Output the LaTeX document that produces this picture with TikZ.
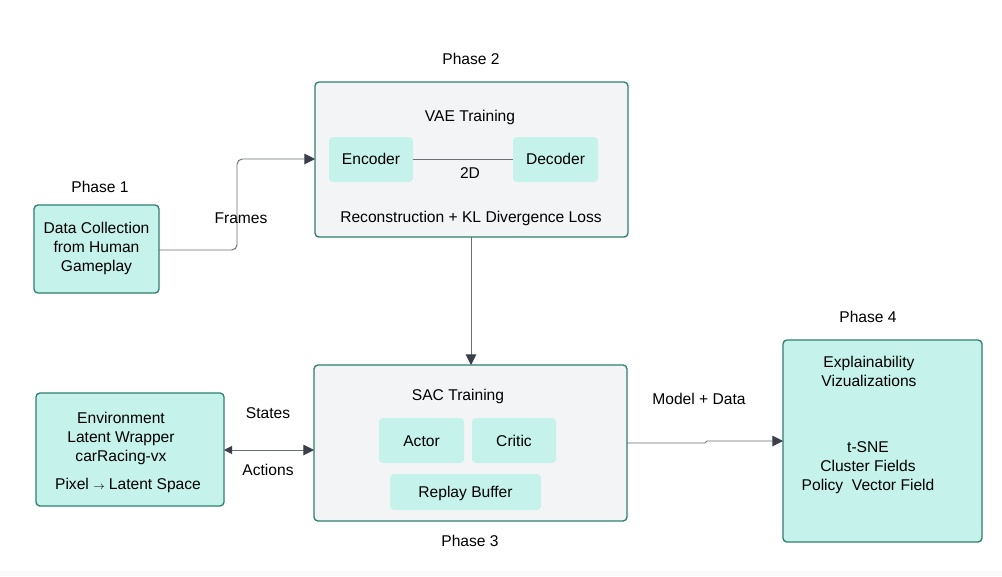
\documentclass[tikz,border=0pt]{standalone}
\usepackage{fontspec}
\setmainfont{Liberation Sans}
\usetikzlibrary{arrows.meta}
\definecolor{mint}{HTML}{C6F2EC}
\definecolor{teal2}{HTML}{2E7F70}
\definecolor{panel}{HTML}{F3F4F6}
\definecolor{wire}{HTML}{6B6E73}
\definecolor{tipc}{HTML}{3A3F4A}
\tikzset{
  px/.style={x=0.75pt,y=-0.75pt},
  phasebox/.style={draw=teal2,line width=1pt,fill=mint,rounded corners=3pt},
  panelbox/.style={draw=teal2,line width=1pt,fill=panel,rounded corners=3pt},
  subbox/.style={fill=mint,rounded corners=3pt},
  lbl/.style={font=\fontsize{11.7}{14.2}\selectfont,align=center,inner sep=0pt,yshift=-1pt},
  wirestyle/.style={draw=wire,line width=0.7pt},
  tip/.style={-{Triangle[length=8pt,width=8pt,color=tipc]}},
}
\begin{document}
\begin{tikzpicture}[px]
\useasboundingbox (0,0) rectangle (1002,576);
\fill[white] (0,0) rectangle (1002,576);
\fill[black!2] (0,571) rectangle (1002,576);
% Phase 1
\node[lbl] (p1) at (100,186) {Phase 1};
\path[phasebox] (34,205) rectangle (159,293);
\node[inner sep=0pt,minimum width=94pt,minimum height=66pt] (data) at (96.5,249) {};
\node[lbl] (datat) at (96.5,247) {Data Collection\\from Human\\Gameplay};
% Phase 2
\node[lbl] (p2) at (471,58) {Phase 2};
\path[panelbox] (315,82) rectangle (628,237);
\node[inner sep=0pt,minimum width=234.75pt,minimum height=116.25pt] (vae) at (471.5,159.5) {};
\node[lbl] (vaet) at (470,116) {VAE Training};
\path[subbox] (329,137) rectangle (413,182);
\node[lbl] (enc) at (371,158) {Encoder};
\path[subbox] (513,137) rectangle (598,182);
\node[lbl] (dec) at (555.5,158) {Decoder};
\coordinate (encE) at (413,159);
\coordinate (decW) at (513,159);
\draw[wirestyle] (encE) -- (decW);
\node[lbl] (twod) at (470,172) {2D};
\node[lbl] (loss) at (471,217) {Reconstruction + KL Divergence Loss};
% Frames connector
\coordinate (dataE) at (159,250);
\coordinate (vaeW) at (315,159);
\draw[wirestyle,tip,rounded corners=4pt] (dataE) -- (237,250) -- (237,159) -- (vaeW);
\node[lbl] (frames) at (241,217) {Frames};
% Phase 3
\path[panelbox] (314,365) rectangle (627,521);
\node[inner sep=0pt,minimum width=234.75pt,minimum height=117pt] (sac) at (470.5,443) {};
\node[lbl] (sact) at (458,395) {SAC Training};
\path[subbox] (379,418) rectangle (464,463);
\node[lbl] (actor) at (421.5,440) {Actor};
\path[subbox] (472,418) rectangle (556,463);
\node[lbl] (critic) at (514,440) {Critic};
\path[subbox] (390,474) rectangle (541,510);
\node[lbl] (replay) at (465.5,492) {Replay Buffer};
\node[lbl] (p3) at (470,540) {Phase 3};
\coordinate (vaeS) at (471,237);
\coordinate (sacN) at (471,365);
\draw[wirestyle,tip] (vaeS) -- (sacN);
% Environment
\path[phasebox] (36,393) rectangle (224,506);
\node[inner sep=0pt,minimum width=141pt,minimum height=84.75pt] (env) at (130,449.5) {};
\node[lbl] (envt) at (121,437) {Environment\\Latent Wrapper\\carRacing-vx};
\node[lbl] (pix) at (128,484) {Pixel {\fontsize{8}{8}\selectfont$\rightarrow$} Latent Space};
\coordinate (envE) at (224,450);
\coordinate (sacW) at (314,450);
\draw[wirestyle,{Triangle[length=6pt,width=6pt,color=tipc]}-{Triangle[length=8pt,width=8pt,color=tipc]}] (envE) -- (sacW);
\node[lbl] (states) at (268,412) {States};
\node[lbl] (actions) at (268,469) {Actions};
% Phase 4
\node[lbl] (p4) at (868,316) {Phase 4};
\path[phasebox] (783,340) rectangle (982,542);
\node[inner sep=0pt,minimum width=149.25pt,minimum height=151.5pt] (xai) at (882.5,441) {};
\node[lbl] (xait) at (869,370) {Explainability\\Vizualizations};
\node[lbl] (tsne) at (868,466) {t-SNE\\Cluster Fields\\Policy\ \ Vector Field};
\coordinate (sacE) at (627,443);
\coordinate (xaiW) at (783,441);
\draw[wirestyle,tip] (sacE) -- (705,443) -- (707,441) -- (xaiW);
\node[lbl] (model) at (699,398) {Model + Data};
\end{tikzpicture}
\end{document}
